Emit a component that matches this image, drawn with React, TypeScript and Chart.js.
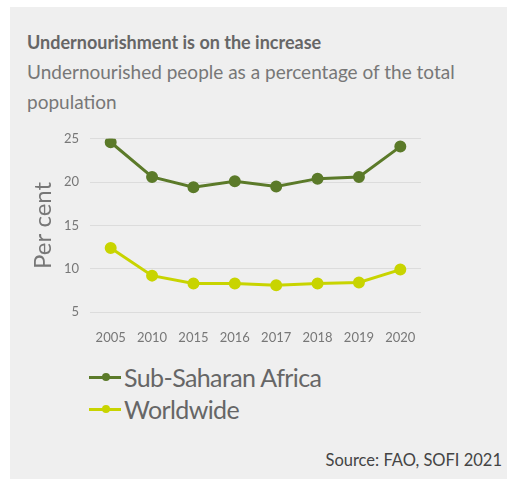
import React, { useEffect, useRef } from "react";
import { Chart, registerables } from "chart.js";

Chart.register(...registerables);

const years = ["2005", "2010", "2015", "2016", "2017", "2018", "2019", "2020"];
const subSaharan = [24.6, 20.6, 19.4, 20.1, 19.5, 20.4, 20.6, 24.1];
const worldwide = [12.4, 9.2, 8.3, 8.3, 8.1, 8.3, 8.4, 9.9];
const seriesNames = ["Sub-Saharan Africa", "Worldwide"];
const seriesColors = ["#5b7a29", "#c8d400"];
const yTicks = [5, 10, 15, 20, 25];

const FONT = "Lato, 'Open Sans', sans-serif";

export default function App() {
  const ref = useRef<HTMLCanvasElement | null>(null);

  useEffect(() => {
    if (!ref.current) return;
    const chart = new Chart(ref.current, {
      type: "line",
      data: {
        labels: years,
        datasets: [subSaharan, worldwide].map((d, i) => ({
          label: seriesNames[i],
          data: d,
          borderColor: seriesColors[i],
          backgroundColor: seriesColors[i],
          borderWidth: 3,
          pointRadius: 4.5,
          pointHoverRadius: 4.5,
          tension: 0,
        })),
      },
      options: {
        animation: false,
        responsive: false,
        devicePixelRatio: 1,
        layout: { padding: { top: 16, right: 9, bottom: 0, left: 0 } },
        plugins: { legend: { display: false }, tooltip: { enabled: false } },
        scales: {
          x: {
            offset: true,
            grid: { display: false },
            border: { display: false },
            ticks: { color: "#777", font: { family: FONT, size: 13 }, padding: 10, maxRotation: 0 },
            afterFit: (axis: any) => {
              axis.height = 38;
            },
          },
          y: {
            min: 5,
            max: 25,
            afterBuildTicks: (axis: any) => {
              axis.ticks = yTicks.map((v) => ({ value: v }));
            },
            afterFit: (axis: any) => {
              axis.width = 70;
            },
            grid: { color: "#dcdcdc", drawTicks: false, lineWidth: 1 },
            border: { display: false },
            ticks: { color: "#777", font: { family: FONT, size: 13 }, padding: 11 },
            title: {
              display: true,
              text: "Per cent",
              color: "#777",
              font: { family: FONT, size: 24 },
              padding: { top: 9, bottom: 0 },
            },
          },
        },
      },
    });
    return () => chart.destroy();
  }, []);

  return (
    <div style={{ position: "absolute", left: 0, top: 0, width: 507, height: 479, background: "#fff", overflow: "hidden", fontFamily: FONT }}>
      <div style={{ position: "absolute", left: 10, top: 7, width: 497, height: 472, background: "#efefef" }} />
      <div style={{ position: "absolute", left: 27, top: 30, fontWeight: 700, fontSize: 18, color: "#666", lineHeight: "24px", whiteSpace: "nowrap" }}>
        Undernourishment is on the increase
      </div>
      <div style={{ position: "absolute", left: 27, top: 57, width: 450, fontSize: 19, color: "#777", lineHeight: "30px" }}>
        Undernourished people as a percentage of the total population
      </div>
      <canvas ref={ref} width={410} height={230} style={{ position: "absolute", left: 20, top: 120, width: 410, height: 230 }} />
      {seriesNames.map((n, i) => (
        <div key={n} style={{ position: "absolute", left: 89, top: 362 + i * 32, height: 30, display: "flex", alignItems: "center" }}>
          <div style={{ position: "relative", width: 32, height: 30, marginRight: 3 }}>
            <div style={{ position: "absolute", left: 0, top: 13.5, width: 32, height: 3, background: seriesColors[i] }} />
            <div style={{ position: "absolute", left: 13, top: 11, width: 8, height: 8, borderRadius: 4, background: seriesColors[i] }} />
          </div>
          <span style={{ fontSize: 25, letterSpacing: "-0.6px", color: "#666", whiteSpace: "nowrap" }}>{n}</span>
        </div>
      ))}
      <div style={{ position: "absolute", right: 5, top: 450, fontSize: 16.5, color: "#444", whiteSpace: "nowrap" }}>
        Source: FAO, SOFI 2021
      </div>
    </div>
  );
}
